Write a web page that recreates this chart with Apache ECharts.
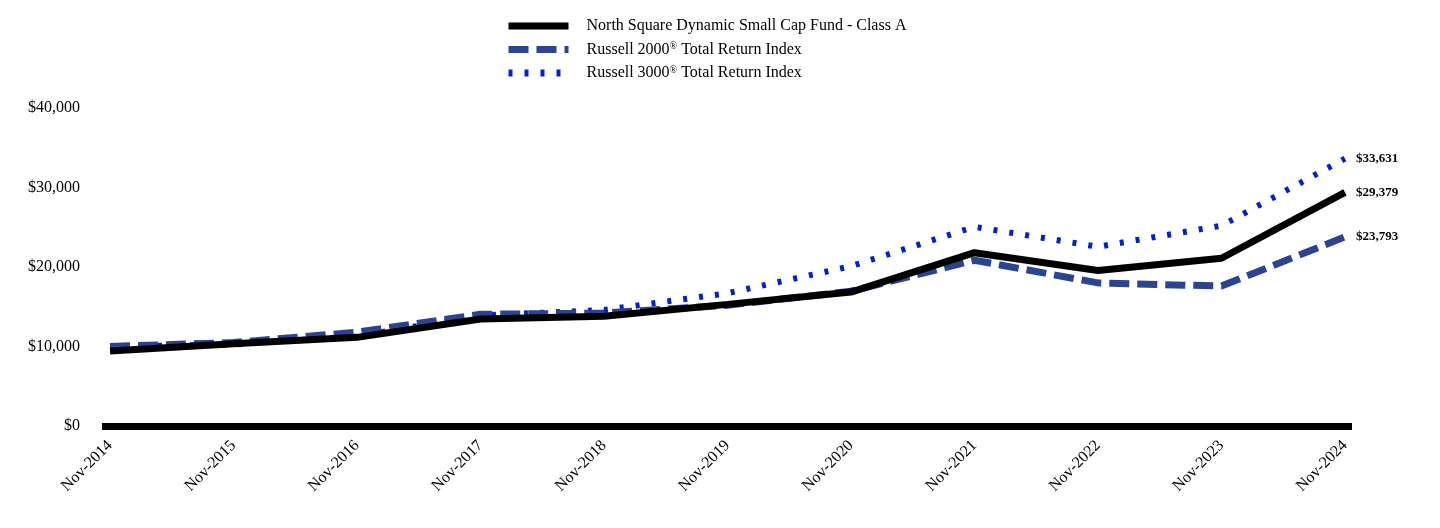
<!DOCTYPE html>
<html>
<head>
<meta charset="utf-8">
<script src="https://cdn.jsdelivr.net/npm/echarts@6/dist/echarts.min.js"></script>
<style>
  html, body { margin: 0; padding: 0; background: #fff; }
  #growth_chart { width: 1440px; height: 528px; }
</style>
</head>
<body>
<div id="growth_chart"></div>
<script>
// values
var years = ['Nov-2014', 'Nov-2015', 'Nov-2016', 'Nov-2017', 'Nov-2018', 'Nov-2019',
    'Nov-2020', 'Nov-2021', 'Nov-2022', 'Nov-2023', 'Nov-2024'];
var fundValues = [9425, 10350, 11150, 13450, 13800, 15300, 16850, 21800, 19550, 21100, 29379];
var r2000Values = [10000, 10500, 11800, 14050, 14200, 15200, 16950, 20850, 18000, 17600, 23793];
var r3000Values = [10000, 10250, 11300, 13900, 14600, 16700, 20100, 25050, 22550, 25200, 33631];
var yTicks = [0, 10000, 20000, 30000, 40000];

var seriesNames = [
    'North Square Dynamic Small Cap Fund - Class A',
    'Russell 2000® Total Return Index',
    'Russell 3000® Total Return Index'
];

var serif = '"Liberation Serif", "Times New Roman", serif';

function toPairs(list) {
    var out = [];
    for (var i = 0; i < list.length; i++) {
        out.push([i, list[i]]);
    }
    return out;
}

function money(v) {
    return '$' + Math.round(v).toLocaleString('en-US');
}

function endLabel() {
    return {
        show: true,
        distance: 11,
        fontFamily: serif,
        fontWeight: 'bold',
        fontSize: 13,
        color: '#000',
        formatter: function (p) { return money(p.value[1]); }
    };
}

var option = {
    animation: false,
    backgroundColor: '#fff',
    legend: {
        orient: 'vertical',
        left: 500,
        top: 13,
        itemWidth: 60,
        itemHeight: 16,
        itemGap: 7.5,
        data: seriesNames,
        itemStyle: { opacity: 0 },
        lineStyle: { width: 7, cap: 'butt' },
        formatter: function (name) {
            return name.replace('®', '{sup|®}');
        },
        textStyle: {
            fontFamily: serif,
            fontSize: 16,
            color: '#000',
            padding: [0, 0, 0, 13],
            rich: {
                sup: { fontFamily: serif, fontSize: 10, padding: [0, 0, 6, 0], color: '#000' }
            }
        }
    },
    grid: {
        left: 102,
        right: 88,
        top: 108,
        bottom: 102,
        containLabel: false
    },
    xAxis: {
        type: 'value',
        min: -0.065,
        max: 10.057,
        axisLine: { show: true, onZero: true, lineStyle: { color: '#000', width: 7, cap: 'butt' } },
        axisTick: { show: false },
        splitLine: { show: false },
        axisLabel: {
            customValues: [0, 1, 2, 3, 4, 5, 6, 7, 8, 9, 10],
            rotate: 45,
            margin: 17,
            fontFamily: serif,
            fontSize: 16,
            color: '#000',
            formatter: function (v) { return years[Math.round(v)]; }
        }
    },
    yAxis: {
        type: 'value',
        min: yTicks[0],
        max: yTicks[yTicks.length - 1],
        interval: 10000,
        axisLine: { show: false },
        axisTick: { show: false },
        splitLine: { show: false },
        axisLabel: {
            margin: 22,
            lineHeight: 20,
            padding: [4, 0, 0, 0],
            fontFamily: serif,
            fontSize: 16,
            color: '#000',
            formatter: money
        }
    },
    series: [
        {
            name: seriesNames[2],
            type: 'line',
            symbol: 'none',
            z: 2,
            data: toPairs(r3000Values),
            lineStyle: { color: '#0022cc', width: 6, type: [4, 12] },
            itemStyle: { color: '#0022cc' },
            endLabel: endLabel()
        },
        {
            name: seriesNames[1],
            type: 'line',
            symbol: 'none',
            z: 3,
            data: toPairs(r2000Values),
            lineStyle: { color: '#2a4490', width: 7, type: [20, 8] },
            itemStyle: { color: '#2a4490' },
            endLabel: endLabel()
        },
        {
            name: seriesNames[0],
            type: 'line',
            symbol: 'none',
            z: 4,
            data: toPairs(fundValues),
            lineStyle: { color: '#000', width: 7 },
            itemStyle: { color: '#000' },
            endLabel: endLabel()
        }
    ]
};

var growthChart = echarts.init(document.getElementById('growth_chart'));
growthChart.setOption(option);

window.addEventListener('resize', function () {
    growthChart.resize();
});
</script>
</body>
</html>
